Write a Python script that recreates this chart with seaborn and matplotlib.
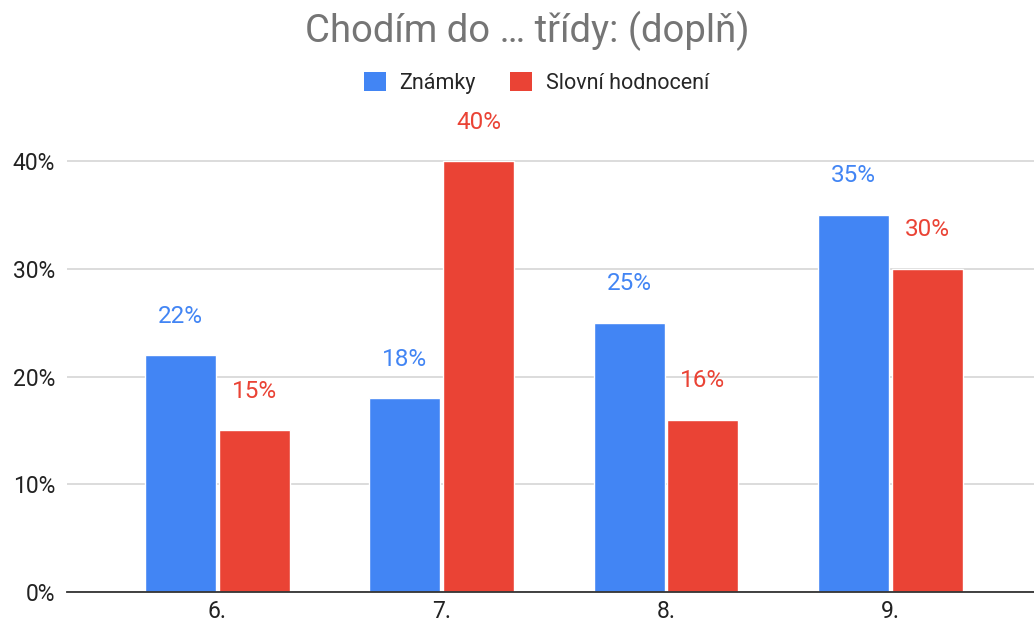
import pandas as pd
import matplotlib.pyplot as plt
import seaborn as sns
from matplotlib.ticker import PercentFormatter
from matplotlib.patches import Patch

# data
tridy = ['6.', '7.', '8.', '9.']
znamky = [0.22, 0.18, 0.25, 0.35]
slovni = [0.15, 0.40, 0.16, 0.30]
serie = ['Známky', 'Slovní hodnocení']
barvy = ['#4285F4', '#EA4335']

df = pd.DataFrame({
    'trida': tridy * 2,
    'hodnota': znamky + slovni,
    'typ': [serie[0]] * len(tridy) + [serie[1]] * len(tridy),
})

sns.set_theme(style='white')
plt.rcParams['font.family'] = ['Roboto', 'DejaVu Sans']

fig = plt.figure(figsize=(10.34, 6.24), dpi=100)
ax = fig.add_axes([0.0648, 0.0513, 0.9352, 0.777])

sns.barplot(data=df, x='trida', y='hodnota', hue='typ', palette=barvy,
            width=0.655, gap=0.035, ax=ax, legend=False, saturation=1)

# popisky nad sloupci
for cont, barva in zip(ax.containers, barvy):
    for rect in cont:
        h = rect.get_height()
        ax.annotate(f'{h:.0%}', (rect.get_x() + rect.get_width() / 2, h),
                    xytext=(0, 28), textcoords='offset points',
                    ha='center', va='center', fontsize=17.5, color=barva)

ax.set_ylim(0, 0.45)
ax.set_xlim(-0.67, 3.64)
ax.set_yticks([0, 0.1, 0.2, 0.3, 0.4])
ax.yaxis.set_major_formatter(PercentFormatter(1.0, decimals=0))
ax.grid(axis='y', color='#d9d9d9', linewidth=1.3)
ax.set_axisbelow(True)
for s in ['top', 'right', 'left']:
    ax.spines[s].set_visible(False)
ax.spines['bottom'].set_color('#333333')
ax.spines['bottom'].set_linewidth(1.3)
ax.tick_params(axis='both', length=0, labelsize=16.5, colors='#222222')
ax.tick_params(axis='y', pad=8.5)
ax.tick_params(axis='x', pad=6)
ax.set_xlabel('')
ax.set_ylabel('')

fig.text(0.51, 0.950, 'Chodím do … třídy: (doplň)', ha='center', va='center',
         fontsize=27.5, color='#757575')

handles = [Patch(facecolor=c, edgecolor='none') for c in barvy]
fig.legend(handles, serie, loc='center', bbox_to_anchor=(0.519, 0.867), ncol=2,
           frameon=False, fontsize=15.5, handlelength=1.0, handleheight=1.0,
           handletextpad=0.65, columnspacing=1.6)

fig.savefig('out.png', dpi=100)
